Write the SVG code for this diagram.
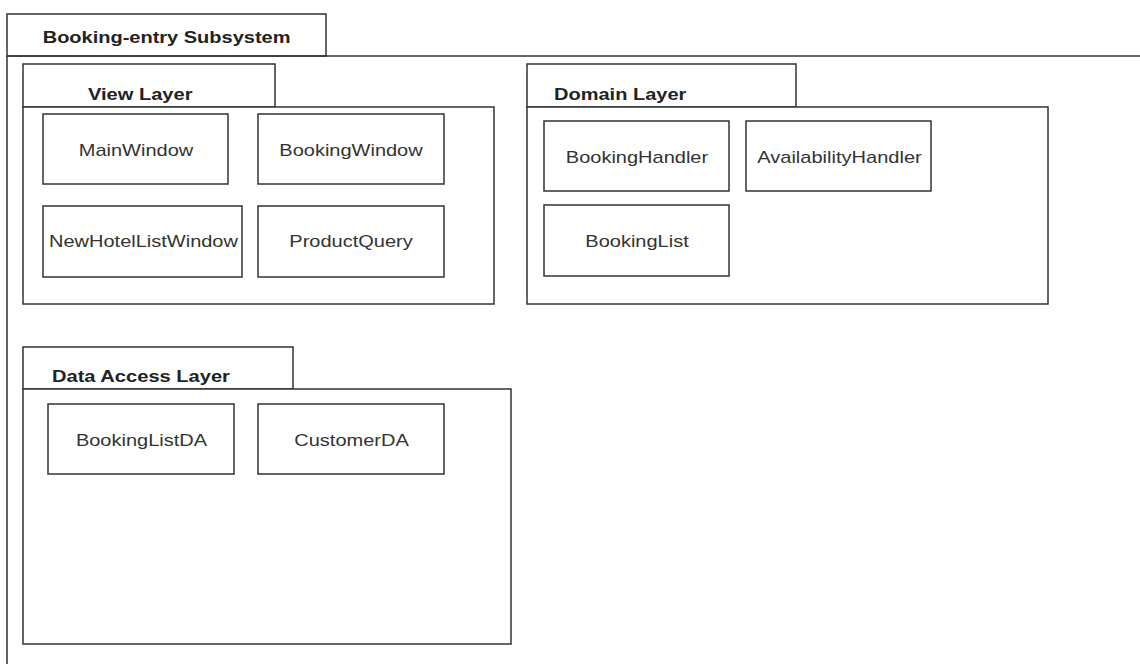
<svg xmlns="http://www.w3.org/2000/svg" width="1140" height="664" viewBox="0 0 1140 664">
  <style>
    .frame { fill: #ffffff; stroke: #333333; stroke-width: 1.5; }
    .edge { fill: none; stroke: #333333; stroke-width: 1.5; }
    .pkg { font-family: "Liberation Sans", Arial, sans-serif; font-size: 17px; font-weight: bold; fill: #222222; lengthAdjust: spacingAndGlyphs; }
    .cls { font-family: "Liberation Sans", Arial, sans-serif; font-size: 17px; fill: #333333; text-anchor: middle; }
  </style>
  <rect x="0" y="0" width="1140" height="664" fill="#ffffff"/>

  <!-- Outer subsystem package: tab plus open-ended body -->
  <g id="booking-entry-subsystem">
    <rect class="frame" x="7" y="14" width="319" height="42"/>
    <path class="edge" d="M7 56 H1141 M7 56 V665"/>
    <text class="pkg" x="42.7" y="42.7" textLength="247.8" lengthAdjust="spacingAndGlyphs">Booking-entry Subsystem</text>
  </g>

  <!-- View layer package -->
  <g id="view-layer">
    <rect class="frame" x="23" y="64" width="252" height="43"/>
    <rect class="frame" x="23" y="107" width="471" height="197"/>
    <text class="pkg" x="88" y="100" textLength="104.5" lengthAdjust="spacingAndGlyphs">View Layer</text>
  </g>
  <g id="main-window">
    <rect class="frame" x="43" y="114" width="185" height="70"/>
    <text class="cls" x="136" y="155.5" textLength="114.5" lengthAdjust="spacingAndGlyphs">MainWindow</text>
  </g>
  <g id="booking-window">
    <rect class="frame" x="258" y="114" width="186" height="70"/>
    <text class="cls" x="351" y="155.5" textLength="143.4" lengthAdjust="spacingAndGlyphs">BookingWindow</text>
  </g>
  <g id="new-hotel-list-window">
    <rect class="frame" x="43" y="206" width="199" height="71"/>
    <text class="cls" x="143.5" y="247" textLength="188.9" lengthAdjust="spacingAndGlyphs">NewHotelListWindow</text>
  </g>
  <g id="product-query">
    <rect class="frame" x="258" y="206" width="186" height="71"/>
    <text class="cls" x="351" y="247" textLength="123.4" lengthAdjust="spacingAndGlyphs">ProductQuery</text>
  </g>

  <!-- Domain layer package -->
  <g id="domain-layer">
    <rect class="frame" x="527" y="64" width="269" height="43"/>
    <rect class="frame" x="527" y="107" width="521" height="197"/>
    <text class="pkg" x="554" y="99.5" textLength="132.3" lengthAdjust="spacingAndGlyphs">Domain Layer</text>
  </g>
  <g id="booking-handler">
    <rect class="frame" x="544" y="121" width="185" height="70"/>
    <text class="cls" x="637" y="162.5" textLength="142.3" lengthAdjust="spacingAndGlyphs">BookingHandler</text>
  </g>
  <g id="availability-handler">
    <rect class="frame" x="746" y="121" width="185" height="70"/>
    <text class="cls" x="839.5" y="162.5" textLength="164.5" lengthAdjust="spacingAndGlyphs">AvailabilityHandler</text>
  </g>
  <g id="booking-list">
    <rect class="frame" x="544" y="205" width="185" height="71"/>
    <text class="cls" x="637" y="247" textLength="103.4" lengthAdjust="spacingAndGlyphs">BookingList</text>
  </g>

  <!-- Data access layer package -->
  <g id="data-access-layer">
    <rect class="frame" x="23" y="347" width="270" height="42"/>
    <rect class="frame" x="23" y="389" width="488" height="255"/>
    <text class="pkg" x="52" y="382" textLength="177.9" lengthAdjust="spacingAndGlyphs">Data Access Layer</text>
  </g>
  <g id="booking-list-da">
    <rect class="frame" x="48" y="404" width="186" height="70"/>
    <text class="cls" x="141.5" y="445.5" textLength="131.2" lengthAdjust="spacingAndGlyphs">BookingListDA</text>
  </g>
  <g id="customer-da">
    <rect class="frame" x="258" y="404" width="186" height="70"/>
    <text class="cls" x="351.5" y="445.5" textLength="114.5" lengthAdjust="spacingAndGlyphs">CustomerDA</text>
  </g>

  <!-- No dependencies are drawn between the packages -->
  <g id="connectors"/>
</svg>
